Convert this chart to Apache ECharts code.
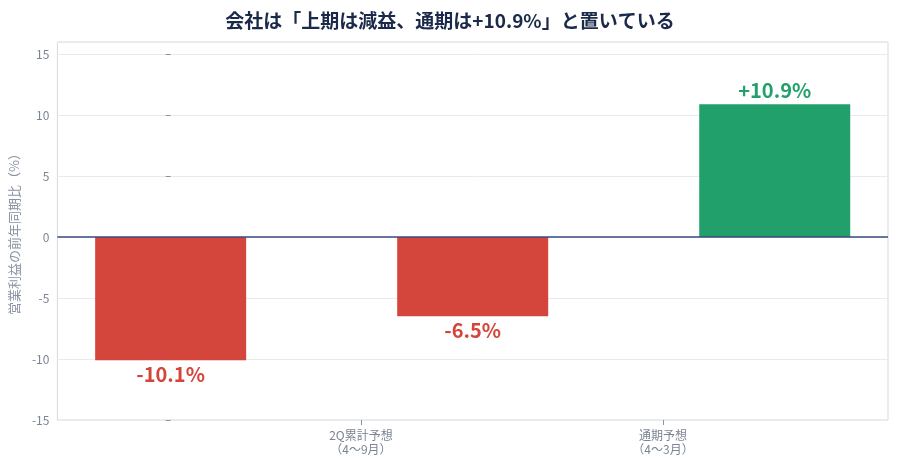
<!DOCTYPE html><html><head><meta charset="utf-8"><script src="https://cdn.jsdelivr.net/npm/echarts@6/dist/echarts.min.js"></script></head><body style="margin:0"><div id="c" style="width:900px;height:465px"></div><script>
const categories=['1Q実績\n（4〜6月）','2Q累計予想\n（4〜9月）','通期予想\n（4〜3月）'];
const values=[-10.1,-6.5,10.9];
const labels=['-10.1%','-6.5%','+10.9%'];
const colors=['#d4453b','#d4453b','#21a06b'];
const ch=echarts.init(document.getElementById('c'));
const F='"Noto Sans CJK JP","Noto Sans",sans-serif';
ch.setOption({
 title:{text:'会社は「上期は減益、通期は+10.9%」と置いている',left:'center',top:6,textStyle:{fontFamily:F,fontSize:19,fontWeight:'bold',color:'#1b2a4a'}},
 grid:{left:55,right:12,top:42,bottom:45,show:true,borderColor:'#d5d9e0',borderWidth:1},
 xAxis:{type:'value',min:-0.375,max:2.375,interval:1,axisLine:{show:false,onZero:false},splitLine:{show:false},
  axisTick:{show:true,lineStyle:{color:'#8a93a3'}},
  axisLabel:{fontFamily:F,fontSize:12,color:'#7b8494',lineHeight:14,showMinLabel:false,showMaxLabel:false,formatter:v=>categories[Math.round(v)]||''}},
 yAxis:{type:'value',min:-15,max:16,interval:5,name:'営業利益の前年同期比（%）',nameLocation:'middle',nameGap:34,nameTextStyle:{fontFamily:F,fontSize:13,color:'#8a93a3'},
  axisLabel:{fontFamily:F,fontSize:12,color:'#7b8494',showMaxLabel:false},axisTick:{show:true,length:5,lineStyle:{color:'#8a93a3'}},axisLine:{show:false},splitLine:{lineStyle:{color:'#e8eaef'}}},
 series:[{type:'bar',barWidth:151,data:values.map((v,i)=>({value:[i,v],itemStyle:{color:colors[i]},label:{show:true,position:v<0?'bottom':'top',formatter:labels[i],color:colors[i],fontFamily:F,fontSize:20,fontWeight:'bold',distance:4}})),
  markLine:{symbol:'none',silent:true,label:{show:false},lineStyle:{color:'#3a4a80',width:1.5,type:'solid'},data:[{yAxis:0}]}}]
});
</script></body></html>
